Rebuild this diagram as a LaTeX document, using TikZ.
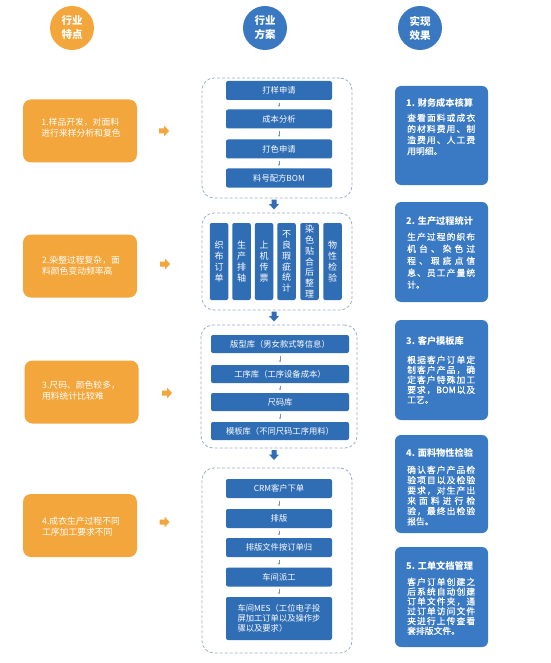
\documentclass[tikz,border=0pt]{standalone}
\usepackage{fontspec}
\usetikzlibrary{arrows.meta}
\setmainfont{Noto Sans CJK SC}
\newfontfamily\semib[FakeBold=0.6]{Noto Sans CJK SC}
\definecolor{myorange}{HTML}{F3A63B}
\definecolor{midblue}{HTML}{2F6DB5}
\definecolor{rblue}{HTML}{3A79C4}
\definecolor{cblue}{HTML}{3A78C2}
\definecolor{grpline}{HTML}{9AAEC8}
\definecolor{tinyline}{HTML}{7F8FA6}
\def\spreadend{}
\def\spreadA#1{#1\spreadB}
\def\spreadB#1{\ifx\spreadend#1\else\hfil#1\expandafter\spreadB\fi}
\newcommand\jl[1]{\makebox[68pt][s]{\spreadA#1\spreadend}}
\begin{document}
\begin{tikzpicture}[x=1pt,y=-1pt,
  ocirc/.style={circle,fill=myorange,minimum size=44pt,inner sep=0pt,text=white,align=center,font=\fontsize{10.5}{14}\selectfont\bfseries},
  bcirc/.style={ocirc,fill=cblue},
  obox/.style={rectangle,rounded corners=8pt,fill=myorange,minimum width=114pt,minimum height=63pt,inner sep=0pt},
  otext/.style={text=white,align=left,inner sep=0pt,font=\fontsize{8.8}{11}\selectfont},
  grp/.style={rectangle,draw=grpline,dash pattern=on 3pt off 2pt,line width=0.8pt,rounded corners=12pt,inner sep=0pt},
  mbox/.style={rectangle,rounded corners=2pt,fill=midblue,text=white,inner sep=0pt,minimum height=19pt,minimum width=106pt,font=\fontsize{8.3}{10}\selectfont},
  colbox/.style={rectangle,rounded corners=2pt,fill=midblue,text=white,inner sep=0pt,minimum height=77pt,minimum width=18.5pt,align=center,font=\fontsize{9}{10.8}\selectfont},
  rbox/.style={rectangle,rounded corners=6pt,fill=rblue,minimum width=93pt,inner sep=0pt},
  rtitle/.style={anchor=west,text=white,inner sep=0pt,font=\fontsize{9.2}{11}\selectfont\bfseries},
  rbody/.style={anchor=north west,text=white,inner sep=0pt,align=left},
  tinyarr/.style={draw=tinyline,line width=0.5pt,-{Stealth[length=2pt,width=2pt]},shorten >=2.5pt,shorten <=2.5pt},
  oarrow/.style={fill=myorange},
  barrow/.style={fill=midblue}
]
\useasboundingbox[fill=white] (0,0) rectangle (550,663);

% header circles
\node[ocirc] (h1) at (72,28) {行业\\特点};
\node[bcirc] (h2) at (265,28) {行业\\方案};
\node[bcirc] (h3) at (420,28) {实现\\效果};

% left orange boxes
\node[obox] (o1) at (80,131) {};
\node[otext] (ot1) at (81,128) {1.样品开发，对面料\\进行来样分析和复色};
\node[obox] (o2) at (80,266) {};
\node[otext] (ot2) at (81,266) {2.染整过程复杂，面\\料颜色变动频率高};
\node[obox] (o3) at (81.5,392) {};
\node[otext] (ot3) at (81,391) {3.尺码、颜色较多，\\用料统计比较难};
\node[obox] (o4) at (80,525.5) {};
\node[otext] (ot4) at (81,527) {4.成衣生产过程不同\\工序加工要求不同};

% orange arrows
\foreach \n/\x/\y in {1/159/131,2/160/264,3/162/393,4/159.5/522}{
  \coordinate (oa\n) at (\x,\y);
  \fill[oarrow] (oa\n) ++(0,-2.5) -- ++(5,0) -- ++(0,-3) -- ++(5,5.5) -- ++(-5,5.5) -- ++(0,-3) -- ++(-5,0) -- cycle;
}

% middle group 1
\node[grp,minimum width=150pt,minimum height=120pt] (g1) at (277,138) {};
\node[mbox] (a1) at (279,90.5) {打样申请};
\node[mbox] (a2) at (279,119) {成本分析};
\node[mbox] (a3) at (279,149) {打色申请};
\node[mbox] (a4) at (279,178) {料号配方BOM};
\draw[tinyarr] (a1) -- (a2);
\draw[tinyarr] (a2) -- (a3);
\draw[tinyarr] (a3) -- (a4);

% middle group 2
\node[grp,minimum width=150pt,minimum height=97pt] (g2) at (277,261.5) {};
\node[colbox] (c1) at (219,261.5) {织\\布\\订\\单};
\node[colbox] (c2) at (241.5,261.5) {生\\产\\排\\轴};
\node[colbox] (c3) at (264,261.5) {上\\机\\传\\票};
\node[colbox] (c4) at (286.5,261.5) {不\\良\\瑕\\疵\\统\\计};
\node[colbox] (c5) at (309.5,261.5) {染\\色\\贴\\合\\后\\整\\理};
\node[colbox] (c6) at (332.5,261.5) {物\\性\\检\\验};

% middle group 3
\node[grp,minimum width=156pt,minimum height=123pt] (g3) at (279,386.5) {};
\node[mbox,minimum width=138pt,minimum height=18pt] (b1) at (280,344) {版型库（男女款式等信息）};
\node[mbox,minimum width=138pt,minimum height=18pt] (b2) at (280,374) {工序库（工序设备成本）};
\node[mbox,minimum width=138pt,minimum height=18pt] (b3) at (280,402) {尺码库};
\node[mbox,minimum width=138pt,minimum height=18pt] (b4) at (280,431) {模板库（不同尺码工序用料）};
\draw[tinyarr] (b1) -- (b2);
\draw[tinyarr] (b2) -- (b3);
\draw[tinyarr] (b3) -- (b4);

% middle group 4
\node[grp,minimum width=150pt,minimum height=185pt] (g4) at (277,560.5) {};
\node[mbox] (d1) at (279,488.5) {CRM客户下单};
\node[mbox] (d2) at (279,518.5) {排版};
\node[mbox] (d3) at (279,547.5) {排版文件按订单归};
\node[mbox] (d4) at (279,577) {车间派工};
\node[mbox,minimum height=43pt,align=left] (d5) at (279,618.5) {车间MES（工位电子投\\屏加工订单以及操作步\\骤以及要求）};
\draw[tinyarr] (d1) -- (d2);
\draw[tinyarr] (d2) -- (d3);
\draw[tinyarr] (d3) -- (d4);
\draw[tinyarr] (d4) -- (d5);

% blue block arrows between groups
\foreach \n/\y in {1/199.5,2/311.5,3/450}{
  \coordinate (ba\n) at (274,\y);
  \fill[barrow] (ba\n) ++(-2.5,0) -- ++(5,0) -- ++(0,4.5) -- ++(2.5,0) -- ++(-5,5.5) -- ++(-5,-5.5) -- ++(2.5,0) -- cycle;
}

% right boxes
\node[rbox,minimum height=99pt] (r1) at (441.5,135.5) {};
\node[rtitle] (rt1) at (406,103) {1. 财务成本核算};
\node[rbody,font=\semib\fontsize{8.8}{11.1}\selectfont] (rb1) at (407,113.5) {\jl{查看面料或成衣}\\\jl{的材料费用、制}\\\jl{造费用、人工费}\\用明细。};

\node[rbox,minimum height=100pt] (r2) at (441.5,252) {};
\node[rtitle] (rt2) at (406,221) {2. 生产过程统计};
\node[rbody,font=\semib\fontsize{8.8}{12}\selectfont] (rb2) at (407,232.5) {\jl{生产过程的织布}\\\jl{机台、染色过}\\\jl{程、瑕疵点信}\\\jl{息、员工产量统}\\计。};

\node[rbox,minimum height=100pt] (r3) at (441.5,370) {};
\node[rtitle] (rt3) at (406,341) {3. 客户模板库};
\node[rbody,font=\semib\fontsize{8.8}{10}\selectfont] (rb3) at (407,355.5) {\jl{根据客户订单定}\\\jl{制客户产品，确}\\\jl{定客户特殊加工}\\\jl{要求，{BOM}以及}\\工艺。};

\node[rbox,minimum height=98pt] (r4) at (441.5,484) {};
\node[rtitle] (rt4) at (406,453) {4. 面料物性检验};
\node[rbody,font=\semib\fontsize{8.8}{10.3}\selectfont] (rb4) at (407,465.5) {\jl{确认客户产品检}\\\jl{验项目以及检验}\\\jl{要求，对生产出}\\\jl{来面料进行检}\\\jl{验，最终出检验}\\报告。};

\node[rbox,minimum height=100pt] (r5) at (441.5,597) {};
\node[rtitle] (rt5) at (406,566) {5. 工单文档管理};
\node[rbody,font=\semib\fontsize{8.8}{9.8}\selectfont] (rb5) at (407,577.5) {\jl{客户订单创建之}\\\jl{后系统自动创建}\\\jl{订单文件夹，通}\\\jl{过订单访问文件}\\\jl{夹进行上传查看}\\套排版文件。};
\end{tikzpicture}
\end{document}
